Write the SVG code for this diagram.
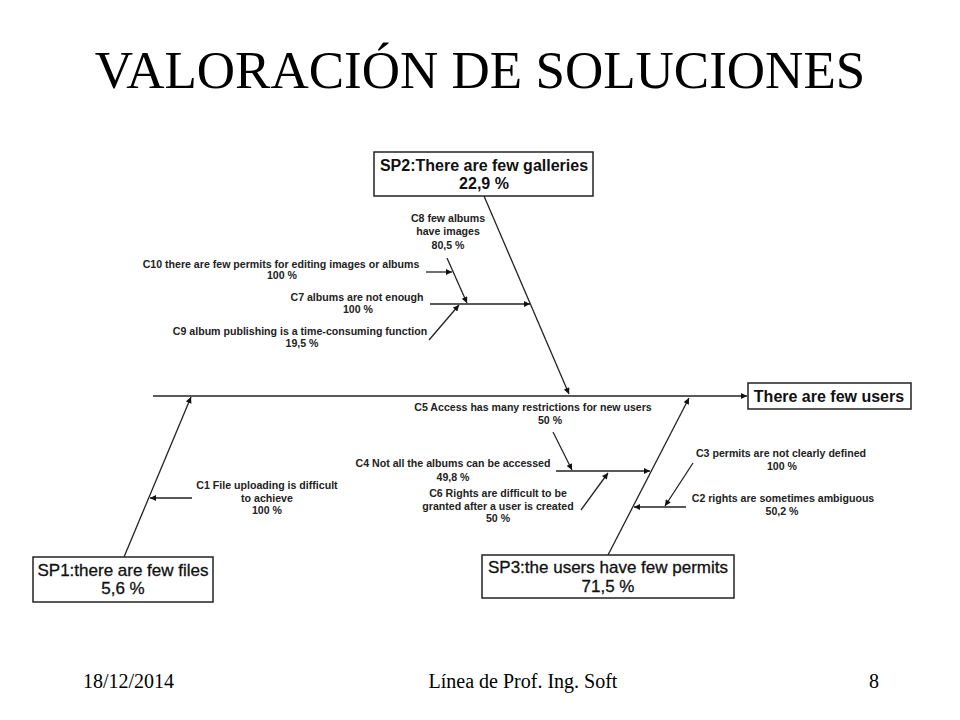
<svg xmlns="http://www.w3.org/2000/svg" width="960" height="720" viewBox="0 0 960 720">
<style>
.title{font-family:"Liberation Serif","Times New Roman",serif;font-size:53px;fill:#000}
.foot{font-family:"Liberation Serif","Times New Roman",serif;font-size:20px;fill:#000}
.box{fill:#fff;stroke:#222;stroke-width:1.5}
.big{font-family:"Liberation Sans",Arial,sans-serif;font-size:17px;fill:#111;text-anchor:middle;stroke:#111;stroke-width:0.3}
.bigb{font-family:"Liberation Sans",Arial,sans-serif;font-size:16px;font-weight:bold;fill:#111;text-anchor:middle}
.lab{font-family:"Liberation Sans",Arial,sans-serif;font-size:10.6px;font-weight:bold;fill:#222;text-anchor:middle}
.ln{stroke:#222;stroke-width:1.3;fill:none;marker-end:url(#ah)}
</style>
<defs>
<marker id="ah" viewBox="0 0 10 10" refX="10" refY="5" markerWidth="7" markerHeight="6" markerUnits="userSpaceOnUse" orient="auto">
<path d="M0,0 L10,5 L0,10 z" fill="#111"/>
</marker>
</defs>
<rect width="960" height="720" fill="#fff"/>
<text class="title" x="480" y="88" text-anchor="middle">VALORACIÓN DE SOLUCIONES</text>

<g id="connectors">
<line class="ln" x1="153" y1="396" x2="747" y2="396"/>
<line class="ln" x1="484" y1="196" x2="569" y2="394"/>
<line class="ln" x1="124" y1="557" x2="191" y2="397"/>
<line class="ln" x1="608" y1="555" x2="689" y2="398"/>
<line class="ln" x1="192" y1="498" x2="150" y2="498"/>
<line class="ln" x1="447" y1="258" x2="467" y2="303"/>
<line class="ln" x1="426" y1="272" x2="452" y2="272"/>
<line class="ln" x1="430" y1="304" x2="530" y2="304"/>
<line class="ln" x1="429" y1="340" x2="459" y2="305"/>
<line class="ln" x1="553" y1="432" x2="572" y2="470"/>
<line class="ln" x1="556" y1="471" x2="650" y2="471"/>
<line class="ln" x1="581" y1="510" x2="608" y2="473"/>
<line class="ln" x1="693" y1="463" x2="665" y2="506"/>
<line class="ln" x1="686" y1="507" x2="634" y2="507"/>
</g>

<g id="effect">
<rect class="box" x="748" y="383" width="163" height="26"/>
<text class="bigb" x="829" y="402">There are few users</text>
</g>
<g id="sp2">
<rect class="box" x="374" y="152" width="219" height="44"/>
<text class="bigb" x="484" y="171">SP2:There are few galleries</text>
<text class="bigb" x="484" y="189">22,9 %</text>
</g>
<g id="sp1">
<rect class="box" x="33" y="557" width="180" height="45"/>
<text class="big" x="123" y="576">SP1:there are few files</text>
<text class="big" x="123" y="594">5,6 %</text>
</g>
<g id="sp3">
<rect class="box" x="482" y="555" width="252" height="43"/>
<text class="big" x="608" y="573">SP3:the users have few permits</text>
<text class="big" x="608" y="592">71,5 %</text>
</g>

<g id="c1"><text class="lab" x="267" y="489">C1 File uploading is difficult</text><text class="lab" x="267" y="502">to achieve</text><text class="lab" x="267" y="514">100 %</text></g>
<g id="c2"><text class="lab" x="783" y="502">C2 rights are sometimes ambiguous</text><text class="lab" x="782" y="515">50,2 %</text></g>
<g id="c3"><text class="lab" x="781" y="457">C3 permits are not clearly defined</text><text class="lab" x="782" y="470">100 %</text></g>
<g id="c4"><text class="lab" x="453" y="467">C4 Not all the albums can be accessed</text><text class="lab" x="453" y="481">49,8 %</text></g>
<g id="c5"><text class="lab" x="533" y="411">C5 Access has many restrictions for new users</text><text class="lab" x="550" y="424">50 %</text></g>
<g id="c6"><text class="lab" x="498" y="497">C6 Rights are difficult to be</text><text class="lab" x="498" y="510">granted after a user is created</text><text class="lab" x="498" y="522">50 %</text></g>
<g id="c7"><text class="lab" x="357" y="301">C7 albums are not enough</text><text class="lab" x="358" y="313">100 %</text></g>
<g id="c8"><text class="lab" x="448" y="222">C8 few albums</text><text class="lab" x="448" y="235">have images</text><text class="lab" x="448" y="249">80,5 %</text></g>
<g id="c9"><text class="lab" x="300" y="335">C9 album publishing is a time-consuming function</text><text class="lab" x="302" y="347">19,5 %</text></g>
<g id="c10"><text class="lab" x="281" y="268">C10 there are few permits for editing images or albums</text><text class="lab" x="282" y="279">100 %</text></g>

<text class="foot" x="83" y="688">18/12/2014</text>
<text class="foot" x="523" y="688" text-anchor="middle">Línea de Prof. Ing. Soft</text>
<text class="foot" x="879" y="688" text-anchor="end">8</text>
</svg>
